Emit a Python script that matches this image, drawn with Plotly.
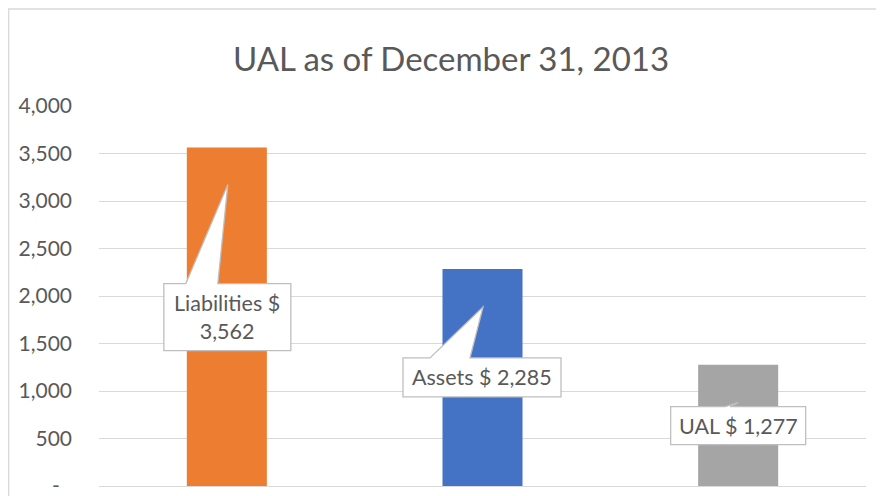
import plotly.graph_objects as go

# ---- data ----
categories = ["Liabilities", "Assets", "UAL"]
values = [3562, 2285, 1277]
bar_colors = ["#ED7D31", "#4472C4", "#A5A5A5"]
tick_vals = [0, 500, 1000, 1500, 2000, 2500, 3000, 3500, 4000]
tick_text = ["-\u2007", "500", "1,000", "1,500", "2,000", "2,500", "3,000", "3,500", "4,000"]
title_text = "UAL as of December 31, 2013"
label_texts = ["Liabilities $<br>3,562", "Assets $ 2,285", "UAL $ 1,277"]

# callout geometry in pixels relative to each bar top (y positive = up)
# (box_x0, box_x1, box_top, box_bottom, wedge_x0, wedge_x1, tip_x, tip_y)
callouts = [
    (-63, 64, -136, -203, -41, -9, 1, -37),
    (-79.5, 78.5, -89, -128, -52.5, -12.5, 0.5, -38),
    (-67.5, 67.5, -42, -80, -13, -8, 0, -38),
]

FONT = "Lato, Carlito, Calibri, sans-serif"
OFF = 8  # page body margin
W, H = 884 - OFF, 496 - OFF
ML, MR, MT, MB = 99 - OFF, 18, 106 - OFF, 10

fig = go.Figure()
fig.add_trace(go.Bar(
    x=categories, y=values,
    marker=dict(color=bar_colors, line=dict(width=0)),
    hoverinfo="skip", showlegend=False,
))

shapes = []
annotations = []
for cat, val, geo, txt in zip(categories, values, callouts, label_texts):
    bx0, bx1, bt, bb, wx0, wx1, tx, ty = geo
    path = (f"M{bx0},{bt} L{wx0},{bt} L{tx},{ty} L{wx1},{bt} L{bx1},{bt} "
            f"L{bx1},{bb} L{bx0},{bb} Z")
    shapes.append(dict(
        type="path", xref="x", yref="y",
        xsizemode="pixel", ysizemode="pixel",
        xanchor=cat, yanchor=val, path=path,
        fillcolor="white", line=dict(color="#BFBFBF", width=1.3),
        layer="above",
    ))
    annotations.append(dict(
        x=cat, y=val, xref="x", yref="y",
        xshift=(bx0 + bx1) / 2, yshift=(bt + bb) / 2,
        text=txt, showarrow=False,
        font=dict(family=FONT, size=21.5, color="#595959"),
        align="center", xanchor="center", yanchor="middle",
    ))

# chart-area border
pw = W - ML - MR
ph = H - MT - MB
shapes.append(dict(
    type="rect", xref="paper", yref="paper",
    x0=(0.7 - ML) / pw, x1=(W + 10 - ML) / pw,
    y0=(H - MB - (H + 10)) / ph, y1=(H - MB - (9 - OFF)) / ph,
    line=dict(color="#D9D9D9", width=1.3), fillcolor="rgba(0,0,0,0)",
    layer="below",
))

fig.update_layout(
    width=W, height=H,
    margin=dict(l=ML, r=MR, t=MT, b=MB, autoexpand=False),
    paper_bgcolor="white", plot_bgcolor="white",
    bargap=0.687,
    title=dict(text=title_text, x=(451 - OFF) / W, xanchor="center",
               y=1 - (59 - OFF) / H, yanchor="middle",
               font=dict(family=FONT, size=33, color="#595959")),
    xaxis=dict(showticklabels=False, showgrid=False, zeroline=False,
               showline=True, linecolor="#D9D9D9", linewidth=1.3,
               fixedrange=True),
    yaxis=dict(range=[0, 4000], tickvals=tick_vals, ticktext=tick_text,
               showgrid=True, gridcolor="#D9D9D9", gridwidth=1.3,
               zeroline=False, showline=False, ticks="",
               ticklabelstandoff=26, ticklabeloverflow="allow",
               tickfont=dict(family=FONT, size=21, color="#595959"),
               fixedrange=True),
    shapes=shapes, annotations=annotations,
    font=dict(family=FONT),
)

fig.write_html("out.html")
